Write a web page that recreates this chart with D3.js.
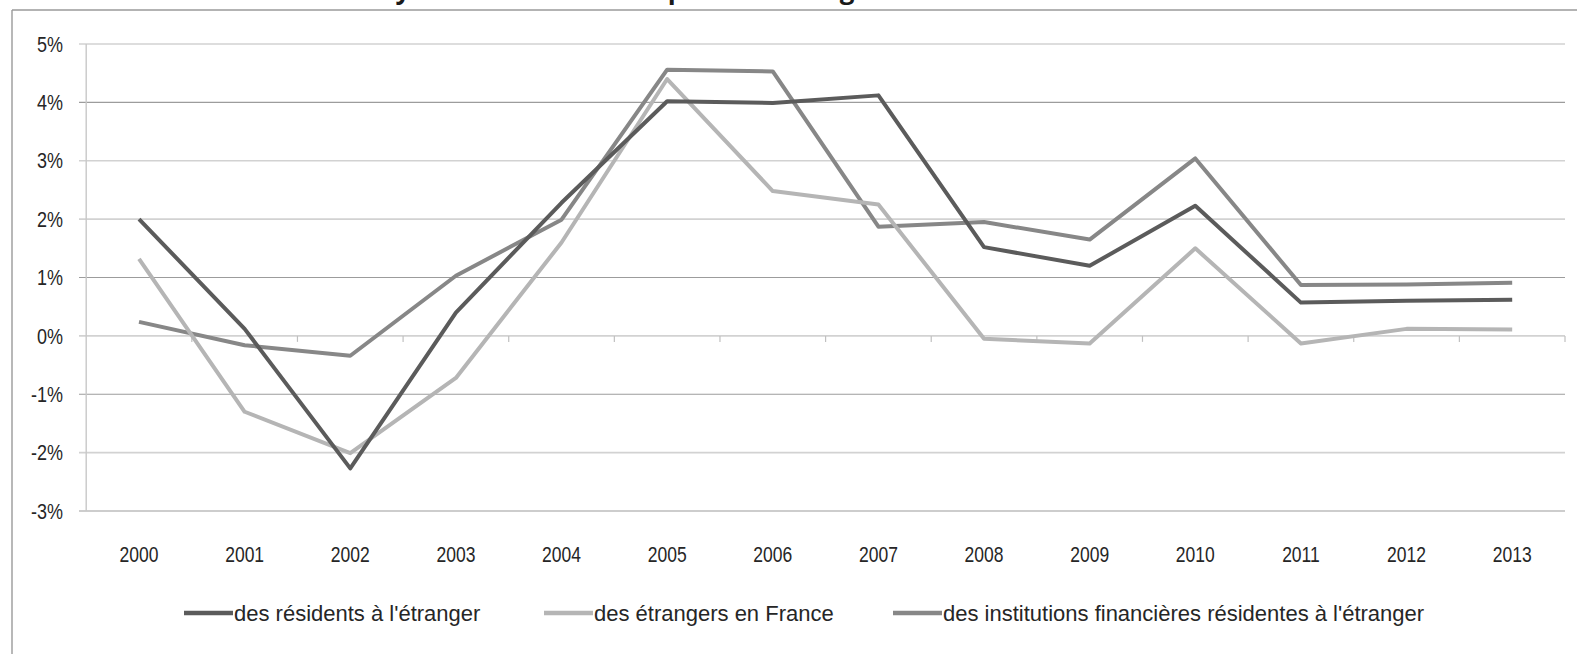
<!DOCTYPE html>
<html>
<head>
<meta charset="utf-8">
<script src="https://cdn.jsdelivr.net/npm/d3@7/dist/d3.min.js"></script>
<style>
  html, body { margin: 0; padding: 0; background: #fff; }
  svg { display: block; }
  text { font-family: "Liberation Sans", Arial, sans-serif; fill: #262626; }
</style>
</head>
<body>
<svg id="chart" width="1577" height="654"></svg>
<script>
const years = ["2000","2001","2002","2003","2004","2005","2006","2007","2008","2009","2010","2011","2012","2013"];
const residents = [2.0, 0.12, -2.27, 0.4, 2.28, 4.02, 3.99, 4.12, 1.52, 1.2, 2.23, 0.57, 0.6, 0.62];
const etrangers = [1.32, -1.3, -2.01, -0.72, 1.6, 4.4, 2.48, 2.25, -0.05, -0.13, 1.5, -0.13, 0.12, 0.11];
const institutions = [0.24, -0.16, -0.34, 1.03, 1.99, 4.56, 4.53, 1.87, 1.95, 1.65, 3.04, 0.87, 0.88, 0.91];
const seriesNames = ["des résidents à l'étranger", "des étrangers en France", "des institutions financières résidentes à l'étranger"];
const yTicks = [-3, -2, -1, 0, 1, 2, 3, 4, 5];
const titleGlyphs = ["y", "p", "g"];

(function () {
const svg = d3.select("#chart");
const pLeft = 86.2, pRight = 1565, pTop = 44, pBottom = 511;

const x = d3.scaleBand().domain(years).range([pLeft, pRight]).padding(0);
const y = d3.scaleLinear().domain([-3, 5]).range([pBottom, pTop]);
const colors = ["#5b5b5b", "#b5b5b5", "#878787"];
const data = [residents, etrangers, institutions];

// frame
svg.append("line").attr("x1", 12).attr("x2", 1577).attr("y1", 10).attr("y2", 10)
  .attr("stroke", "#9a9a9a").attr("stroke-width", 1.6);
svg.append("line").attr("x1", 12).attr("x2", 12).attr("y1", 10).attr("y2", 654)
  .attr("stroke", "#9a9a9a").attr("stroke-width", 1.4);

// title fragments: the title sits above the top edge, only descenders visible
const titleX = [403, 676, 847];
svg.selectAll("text.title").data(titleGlyphs).enter().append("text")
  .attr("class", "title")
  .attr("x", (d, i) => titleX[i]).attr("y", -1)
  .attr("text-anchor", "middle")
  .style("font-family", "'Open Sans', sans-serif")
  .style("font-weight", "bold").style("font-size", "26px")
  .style("fill", "#1a1a1a")
  .text(d => d);

// gridlines
const darkTicks = new Set([4, 1, -1, -3]);
svg.append("g").selectAll("line").data(yTicks).enter().append("line")
  .attr("x1", 79).attr("x2", pRight)
  .attr("y1", d => y(d)).attr("y2", d => y(d))
  .attr("stroke", d => darkTicks.has(d) ? "#9c9c9c" : "#d2d2d2")
  .attr("stroke-width", d => darkTicks.has(d) ? 1.2 : 1.6);

// y axis line
svg.append("line").attr("x1", pLeft).attr("x2", pLeft).attr("y1", pTop).attr("y2", pBottom)
  .attr("stroke", "#c8c8c8").attr("stroke-width", 1.4);

// y labels (tall, narrow look)
svg.append("g").selectAll("text").data(yTicks).enter().append("text")
  .attr("transform", d => `translate(63,${y(d)}) scale(1,1.22)`)
  .attr("text-anchor", "end").attr("dominant-baseline", "central")
  .style("font-size", "18px")
  .text(d => d + "%");

// x axis tick marks at 0
const bounds = years.map(d => x(d)).concat([pRight]);
svg.append("g").selectAll("line").data(bounds.slice(1)).enter().append("line")
  .attr("x1", d => d).attr("x2", d => d)
  .attr("y1", y(0)).attr("y2", y(0) + 6)
  .attr("stroke", "#c0c0c0").attr("stroke-width", 1.2);

// x labels
svg.append("g").selectAll("text").data(years).enter().append("text")
  .attr("transform", d => `translate(${x(d) + x.bandwidth() / 2},554) scale(1,1.25)`)
  .attr("text-anchor", "middle").attr("dominant-baseline", "central")
  .style("font-size", "17.5px")
  .text(d => d);

// series lines
const line = d3.line()
  .x((d, i) => x(years[i]) + x.bandwidth() / 2)
  .y(d => y(d));
[2, 1, 0].forEach(k => {
  svg.append("path").datum(data[k])
    .attr("fill", "none").attr("stroke", colors[k])
    .attr("stroke-width", 4).attr("stroke-linejoin", "round")
    .attr("d", line);
});

// legend
const legX = [184, 544, 893];
const legY = 613;
seriesNames.forEach((name, k) => {
  svg.append("line").attr("x1", legX[k]).attr("x2", legX[k] + 49)
    .attr("y1", legY).attr("y2", legY)
    .attr("stroke", colors[k]).attr("stroke-width", 4.5);
  svg.append("text").attr("x", legX[k] + 50).attr("y", legY)
    .attr("dominant-baseline", "central")
    .style("font-size", "22px")
    .text(name);
});
})();
</script>
</body>
</html>
